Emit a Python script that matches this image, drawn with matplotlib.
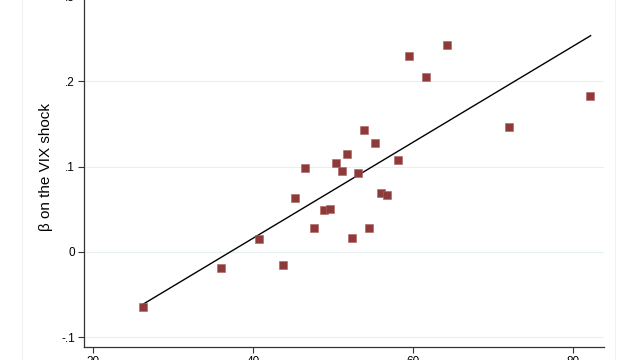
import numpy as np
import matplotlib.pyplot as plt
from matplotlib.patches import Rectangle

plt.rcParams['font.family'] = ['Liberation Sans', 'DejaVu Sans']

# data
x_vals = [26.25, 36.0, 40.75, 43.75, 45.25, 46.5, 47.6, 48.9, 49.6, 50.4,
          51.1, 51.75, 52.4, 53.1, 53.9, 54.5, 55.25, 56.0, 56.75, 58.1,
          59.5, 61.6, 64.25, 72.0, 82.1]
beta_vals = [-0.0645, -0.019, 0.015, -0.015, 0.063, 0.098, 0.028, 0.049, 0.050, 0.104,
             0.095, 0.115, 0.016, 0.093, 0.143, 0.028, 0.128, 0.069, 0.067, 0.108,
             0.230, 0.205, 0.243, 0.147, 0.183]
# fitted line as drawn in the chart
fit_intercept = -0.209
fit_slope = 0.005628
fit_range = [26.25, 82.2]
x_ticks = [20, 40, 60, 80]
y_ticks = [-0.1, 0, 0.1, 0.2, 0.3]
y_ticklabels = ['-.1', '0', '.1', '.2', '.3']

x = np.array(x_vals)
y = np.array(beta_vals)
xf = np.array(fit_range)
yf = fit_intercept + fit_slope * xf

fig = plt.figure(figsize=(6.4, 3.6), dpi=100)
# faint graph region border
fig.patches.append(Rectangle((22 / 640, -0.1), (615 - 22) / 640, 1.2,
                             transform=fig.transFigure, fill=False,
                             edgecolor='#f0f0f0', linewidth=0.8))

ax = fig.add_axes([84 / 640, 13 / 360, 520 / 640, 360 / 360])
ax.set_xlim(18.875, 83.875)
ax.set_ylim(-0.1114, 0.3107)

for t in y_ticks:
    ax.axhline(t, color='#e6eff1', linewidth=0.8, zorder=0)

ax.plot(xf, yf, color='black', linewidth=1.0, zorder=2)
ax.scatter(x, y, marker='s', s=36, color='#8c3a3a', edgecolors='#b06060',
           linewidths=0.4, zorder=3)

ax.set_xticks(x_ticks)
ax.set_yticks(y_ticks)
ax.set_yticklabels(y_ticklabels)
ax.tick_params(labelsize=8.5, length=4.5, width=0.8, color='#333333', pad=2)
ax.set_ylabel('β on the VIX shock', fontsize=11, labelpad=6)

for s in ['top', 'right']:
    ax.spines[s].set_visible(False)
for s in ['left', 'bottom']:
    ax.spines[s].set_linewidth(0.9)
    ax.spines[s].set_color('#333333')

fig.savefig('out.png', dpi=100)
